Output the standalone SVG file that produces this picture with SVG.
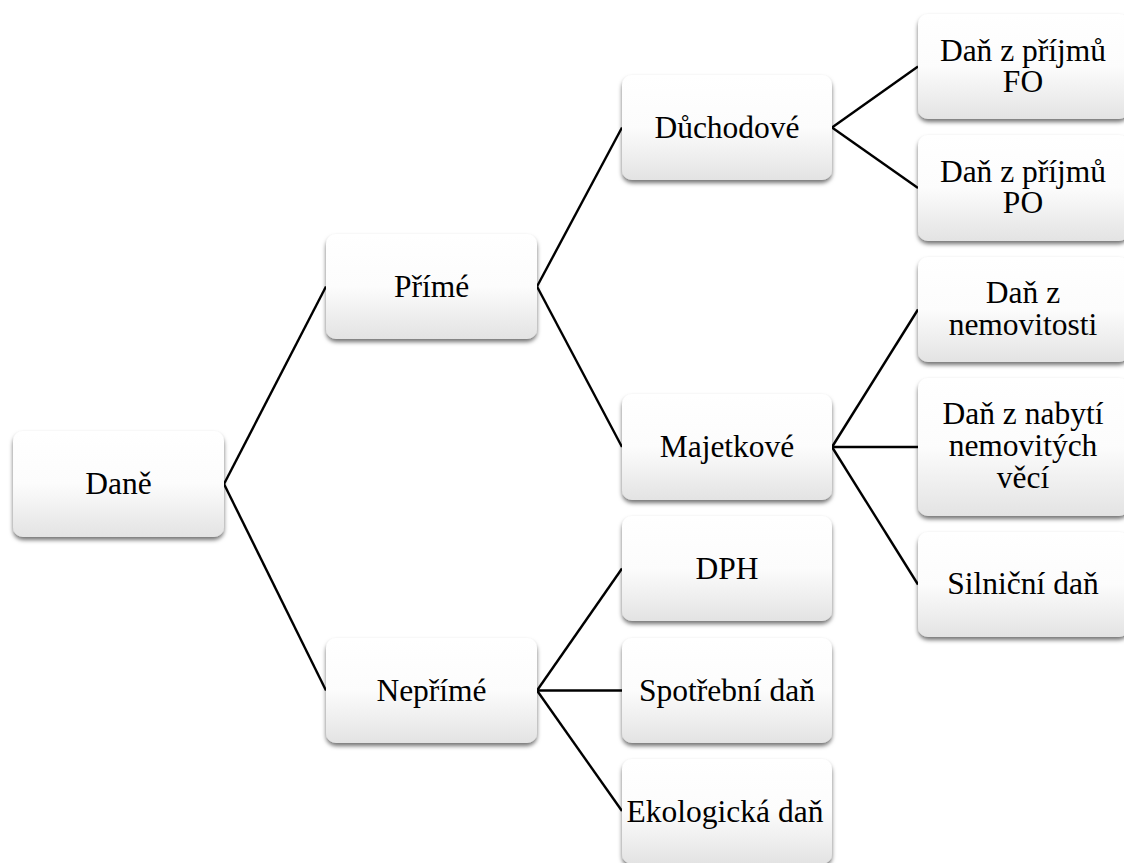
<svg xmlns="http://www.w3.org/2000/svg" width="1124" height="863" viewBox="0 0 1124 863">
<defs>
<linearGradient id="g" x1="0" y1="0" x2="0" y2="1">
<stop offset="0" stop-color="#ffffff"/>
<stop offset="0.5" stop-color="#fcfcfc"/>
<stop offset="1" stop-color="#e3e3e3"/>
</linearGradient>
<filter id="sh" x="-10%" y="-10%" width="120%" height="130%">
<feDropShadow dx="0" dy="3" stdDeviation="2.2" flood-color="#000" flood-opacity="0.55"/>
</filter>
</defs>
<style>
.box{fill:url(#g);filter:url(#sh)}
text{font-family:'Liberation Serif','Times New Roman',serif;font-size:31.5px;fill:#000;text-anchor:middle}
.c line{stroke:#000;stroke-width:2.4;fill:none}
</style>
<rect width="1124" height="863" fill="#fff"/>
<g class="c" id="connectors">
<line x1="224" y1="484" x2="326" y2="286.5"/>
<line x1="224" y1="484" x2="326" y2="690.5"/>
<line x1="537" y1="286.5" x2="622" y2="127.5"/>
<line x1="537" y1="286.5" x2="622" y2="447"/>
<line x1="832" y1="127.5" x2="918" y2="66.5"/>
<line x1="832" y1="127.5" x2="918" y2="188"/>
<line x1="832" y1="447" x2="918" y2="309.5"/>
<line x1="832" y1="447" x2="918" y2="447"/>
<line x1="832" y1="447" x2="918" y2="584.5"/>
<line x1="537" y1="690.5" x2="622" y2="568.5"/>
<line x1="537" y1="690.5" x2="622" y2="690.5"/>
<line x1="537" y1="690.5" x2="622" y2="811"/>
</g>
<g id="n-dane"><rect class="box" x="13" y="431" width="211" height="106" rx="10"/><text x="118.5" y="494">Daně</text></g>
<g id="n-prime"><rect class="box" x="326" y="234" width="211" height="105" rx="10"/><text x="431.5" y="297">Přímé</text></g>
<g id="n-neprime"><rect class="box" x="326" y="638" width="211" height="105" rx="10"/><text x="431.5" y="701">Nepřímé</text></g>
<g id="n-duchodove"><rect class="box" x="622" y="75" width="210" height="105" rx="10"/><text x="727" y="138">Důchodové</text></g>
<g id="n-majetkove"><rect class="box" x="622" y="394" width="210" height="106" rx="10"/><text x="727" y="457">Majetkové</text></g>
<g id="n-dph"><rect class="box" x="622" y="516" width="210" height="105" rx="10"/><text x="727" y="579">DPH</text></g>
<g id="n-spotrebni"><rect class="box" x="622" y="638" width="210" height="105" rx="10"/><text x="727" y="701">Spotřební daň</text></g>
<g id="n-ekologicka"><rect class="box" x="622" y="759" width="210" height="105" rx="10"/><text x="725" y="822">Ekologická daň</text></g>
<g id="n-fo"><rect class="box" x="918" y="14" width="211" height="105" rx="10"/><text x="1023" y="61">Daň z příjmů</text><text x="1023" y="92">FO</text></g>
<g id="n-po"><rect class="box" x="918" y="135" width="211" height="106" rx="10"/><text x="1023" y="182">Daň z příjmů</text><text x="1023" y="213">PO</text></g>
<g id="n-nemovitosti"><rect class="box" x="918" y="257" width="211" height="105" rx="10"/><text x="1023" y="303">Daň z</text><text x="1023" y="335">nemovitosti</text></g>
<g id="n-nabyti"><rect class="box" x="918" y="378" width="211" height="138" rx="10"/><text x="1023" y="424">Daň z nabytí</text><text x="1023" y="456">nemovitých</text><text x="1023" y="488">věcí</text></g>
<g id="n-silnicni"><rect class="box" x="918" y="532" width="211" height="105" rx="10"/><text x="1023" y="594">Silniční daň</text></g>
</svg>
